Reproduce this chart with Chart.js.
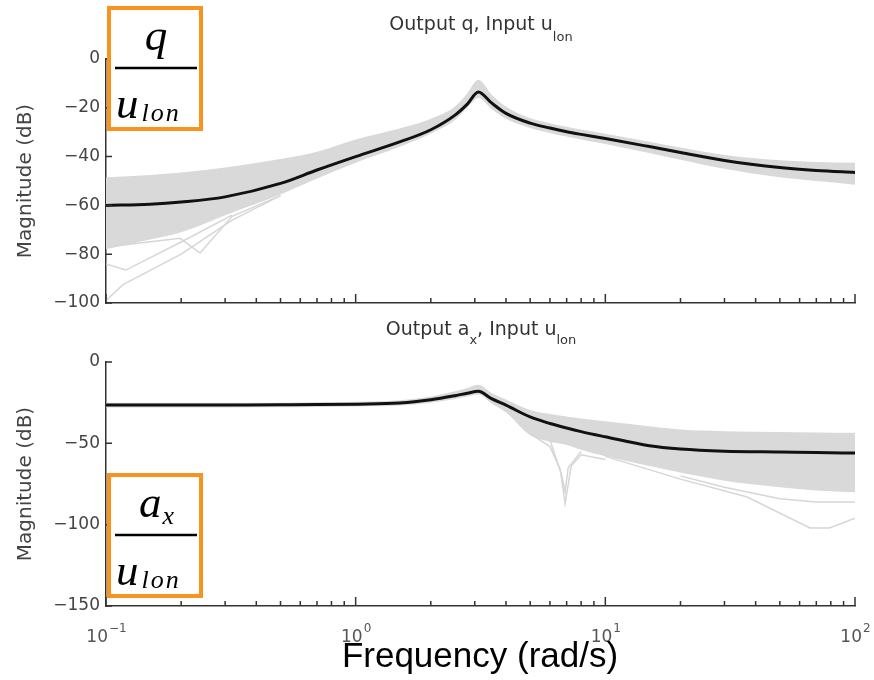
<!DOCTYPE html>
<html>
<head>
  <meta charset="UTF-8">
  <title>Magnitude q y a_x frente a u_lon</title>
  <script src="https://cdn.jsdelivr.net/npm/chart.js"></script>
  <style>
    body { margin: 0; background: #fff; }
    #wrap { position: relative; width: 874px; height: 680px; }
    canvas { position: absolute; left: 0; }
    #top { top: 0; }
    #bottom { top: 307px; }
  </style>
</head>
<body>
<div id="wrap">
  <canvas id="top" width="874" height="307"></canvas>
  <canvas id="bottom" width="874" height="373"></canvas>
</div>
<script>
// frecuencias (rad/s) comunes a la curva nominal y a la banda de dispersion
const freq = [0.1, 0.15, 0.2, 0.3, 0.5, 0.7, 1, 1.5, 2, 2.5, 2.8, 3.1, 3.5, 4, 5, 6, 7, 8, 10, 15, 20, 30, 50, 70, 100];

// q / u_lon en dB
const qNominal = [-60, -59.5, -58.6, -56.5, -51, -45.5, -40, -34, -29, -23, -18.5, -13.5, -18, -22.3, -26.3, -28.3, -29.8, -30.9, -32.6, -35.9, -38.3, -41.6, -44.5, -45.7, -46.5];
const qUpper = [-48.5, -47.5, -46.5, -44.5, -41, -38, -33, -28.5, -24.5, -19.5, -14, -8.5, -14.5, -19.5, -24.3, -26.3, -27.8, -28.9, -30.6, -33.9, -36.3, -39.3, -41.5, -42.2, -42.5];
const qLower = [-78, -74, -71, -64, -55.5, -49, -42.5, -36, -30.5, -25, -20, -16, -20.5, -24.5, -28.3, -30.3, -31.8, -33, -34.8, -38.5, -41.3, -45, -48.5, -50, -51.5];
// corridas sueltas por debajo de la banda
const qRunFreq1 = [0.1, 0.117, 0.2, 0.32, 0.5];
const qRun1 = [-99, -92.5, -80, -66, -56];
const qRunFreq2 = [0.1, 0.198, 0.238, 0.32, 0.5];
const qRun2 = [-77, -73.5, -79.5, -64.5, -56];
const qRunFreq3 = [0.1, 0.12, 0.2, 0.32];
const qRun3 = [-84, -86.5, -75, -64];

// a_x / u_lon en dB
const axNominal = [-26.5, -26.5, -26.5, -26.4, -26.3, -26.2, -25.9, -25.2, -23.2, -20.7, -19.2, -18, -22.5, -26.5, -33.8, -37.8, -40.6, -42.8, -46, -51.5, -53.5, -54.8, -55.3, -55.6, -56];
const axUpper = [-25, -25, -25, -25, -25, -24.8, -24.4, -23.5, -21.2, -18, -16, -14, -19, -23, -29.5, -32, -33.5, -34.8, -36.5, -39.5, -41.5, -42.5, -43, -43.3, -43.5];
const axLower = [-28, -28, -28, -27.9, -27.8, -27.6, -27.3, -26.7, -25, -22.7, -21.2, -20, -25.5, -31, -45, -49, -51, -54, -58, -64, -68, -73, -77, -79, -80];
const axRunFreq1 = [5, 6, 6.6, 6.9, 7.3, 8, 10];
const axRun1 = [-44, -52, -66, -87, -64, -57, -60];
const axRunFreq2 = [6, 6.7, 6.9, 7.1, 8];
const axRun2 = [-48, -70, -80, -65, -55];
const axRunFreq3 = [10, 20, 37, 66, 79, 100];
const axRun3 = [-58, -72, -83, -102, -102, -96];
const axRunFreq4 = [20, 30, 50, 70, 100];
const axRun4 = [-70, -77, -84, -86, -86];

// marcas del eje x
const decades = [0.1, 1, 10, 100];
const decadeExp = ['\u22121', '0', '1', '2'];
const minorSteps = [2, 3, 4, 5, 6, 7, 8, 9];

const band = '#d9d9d9';
const runColor = '#d6d6d6';

function pts(xs, ys) {
  return xs.map((x, i) => ({ x: x, y: ys[i] }));
}

function datasets(nominal, upper, lower, runs) {
  const list = [
    { data: pts(freq, nominal), borderColor: '#111', borderWidth: 3, order: 0, cubicInterpolationMode: 'monotone' },
    { data: pts(freq, upper), borderWidth: 0, backgroundColor: band, fill: '+1', order: 3, cubicInterpolationMode: 'monotone' },
    { data: pts(freq, lower), borderWidth: 0, fill: false, order: 3, cubicInterpolationMode: 'monotone' }
  ];
  runs.forEach(r => list.push({ data: pts(r[0], r[1]), borderColor: runColor, borderWidth: 1.5, order: 2 }));
  list.forEach(d => { d.pointRadius = 0; });
  return list;
}

// texto con subindices: partes [texto, esSub]
function richText(ctx, parts, cx, baseline, size, subSize, drop) {
  const big = size + 'px "DejaVu Sans"', small = subSize + 'px "DejaVu Sans"';
  let w = 0;
  parts.forEach(([t, sub]) => { ctx.font = sub ? small : big; w += ctx.measureText(t).width; });
  let x = cx - w / 2;
  ctx.textAlign = 'left';
  ctx.textBaseline = 'alphabetic';
  parts.forEach(([t, sub]) => {
    ctx.font = sub ? small : big;
    ctx.fillText(t, x, baseline + (sub ? drop : 0));
    x += ctx.measureText(t).width;
  });
}

// recuadro naranja con la fraccion
function fractionBox(ctx, top, num, numSub) {
  ctx.save();
  ctx.fillStyle = '#fff';
  ctx.fillRect(107, top, 96, 125);
  ctx.strokeStyle = '#f7931e';
  ctx.lineWidth = 4;
  ctx.strokeRect(109, top + 2, 92, 121);
  ctx.fillStyle = '#000';
  ctx.textBaseline = 'alphabetic';
  ctx.textAlign = 'left';
  const big = 'italic 45px "Liberation Serif"', small = 'italic 26px "Liberation Serif"';
  ctx.font = big;
  const wNum = ctx.measureText(num).width;
  ctx.font = small;
  const wSub = numSub ? ctx.measureText(numSub).width : 0;
  const x = 156 - (wNum + wSub) / 2;
  ctx.font = big;
  ctx.fillText(num, x, top + 44);
  if (numSub) { ctx.font = small; ctx.fillText(numSub, x + wNum + 1, top + 51); }
  ctx.beginPath();
  ctx.lineWidth = 2.5;
  ctx.strokeStyle = '#000';
  ctx.moveTo(115, top + 62);
  ctx.lineTo(197, top + 62);
  ctx.stroke();
  ctx.font = big;
  ctx.fillText('u', 116, top + 112);
  const wu = ctx.measureText('u').width;
  ctx.font = small;
  ctx.letterSpacing = '2px';
  ctx.fillText('lon', 116 + wu + 3, top + 115);
  ctx.letterSpacing = '0px';
  ctx.restore();
}

function axisMarks(chart) {
  const { ctx, chartArea: a, scales: { x, y } } = chart;
  ctx.save();
  ctx.strokeStyle = '#333';
  ctx.lineWidth = 1.5;
  ctx.beginPath();
  y.ticks.forEach(t => {
    const py = y.getPixelForValue(t.value);
    ctx.moveTo(a.left, py);
    ctx.lineTo(a.left + 6, py);
  });
  decades.forEach((d, i) => {
    const px = x.getPixelForValue(d);
    ctx.moveTo(px, a.bottom);
    ctx.lineTo(px, a.bottom - 9);
    if (i < decades.length - 1) {
      minorSteps.forEach(m => {
        const pm = x.getPixelForValue(d * m);
        ctx.moveTo(pm, a.bottom);
        ctx.lineTo(pm, a.bottom - 5);
      });
    }
  });
  ctx.stroke();
  // titulo del eje y
  ctx.fillStyle = '#444';
  ctx.font = '20px "DejaVu Sans"';
  ctx.textAlign = 'center';
  ctx.textBaseline = 'middle';
  ctx.translate(26, (a.top + a.bottom) / 2);
  ctx.rotate(-Math.PI / 2);
  ctx.fillText('Magnitude (dB)', 0, 0);
  ctx.restore();
}

function options(yMin, yStep, top, xHeight) {
  return {
    responsive: false,
    animation: false,
    layout: { padding: { top: top, right: 19, left: 0, bottom: 0 } },
    plugins: { legend: { display: false }, tooltip: { enabled: false } },
    scales: {
      x: {
        type: 'logarithmic', min: 0.1, max: 100,
        grid: { display: false, drawTicks: false },
        border: { display: true, color: '#333', width: 1.5 },
        ticks: { display: false },
        afterFit: s => { s.height = xHeight; s.paddingLeft = 0; s.paddingRight = 0; }
      },
      y: {
        min: yMin, max: 0,
        grid: { display: false, drawTicks: false },
        border: { display: true, color: '#333', width: 1.5 },
        ticks: {
          stepSize: yStep, padding: 6, color: '#444',
          font: { family: 'DejaVu Sans', size: 17 },
          callback: v => String(v).replace('-', '\u2212')
        },
        afterFit: s => { s.width = 106; s.paddingTop = 0; s.paddingBottom = 0; }
      }
    }
  };
}

const topOpts = options(-100, 20, 59, 4);
new Chart(document.getElementById('top'), {
  type: 'line',
  data: { datasets: datasets(qNominal, qUpper, qLower, [[qRunFreq1, qRun1], [qRunFreq2, qRun2], [qRunFreq3, qRun3]]) },
  options: topOpts,
  plugins: [{
    id: 'marksTop',
    afterDatasetsDraw: axisMarks,
    afterDraw(chart) {
      const ctx = chart.ctx;
      ctx.save();
      ctx.fillStyle = '#333';
      richText(ctx, [['Output q, Input u', false], ['lon', true]], 481, 30, 19, 13, 11);
      ctx.restore();
      fractionBox(ctx, 6, 'q', '');
    }
  }]
});

const bottomOpts = options(-150, 50, 55, 74);
new Chart(document.getElementById('bottom'), {
  type: 'line',
  data: { datasets: datasets(axNominal, axUpper, axLower, [[axRunFreq1, axRun1], [axRunFreq2, axRun2], [axRunFreq3, axRun3], [axRunFreq4, axRun4]]) },
  options: bottomOpts,
  plugins: [{
    id: 'marksBottom',
    afterDatasetsDraw: axisMarks,
    afterDraw(chart) {
      const { ctx, scales: { x } } = chart;
      ctx.save();
      ctx.fillStyle = '#333';
      richText(ctx, [['Output a', false], ['x', true], [', Input u', false], ['lon', true]], 481, 28, 19, 13, 9);
      // etiquetas de decada 10^k
      ctx.fillStyle = '#555';
      ctx.textAlign = 'left';
      ctx.textBaseline = 'alphabetic';
      decades.forEach((d, i) => {
        ctx.font = '17px "DejaVu Sans"';
        const wb = ctx.measureText('10').width;
        ctx.font = '12px "DejaVu Sans"';
        const we = ctx.measureText(decadeExp[i]).width;
        const x0 = x.getPixelForValue(d) - (wb + we) / 2;
        ctx.font = '17px "DejaVu Sans"';
        ctx.fillText('10', x0, 335);
        ctx.font = '12px "DejaVu Sans"';
        ctx.fillText(decadeExp[i], x0 + wb + 1, 325);
      });
      ctx.fillStyle = '#000';
      ctx.font = '35px "Liberation Sans"';
      ctx.textAlign = 'center';
      ctx.fillText('Frequency (rad/s)', 480, 360);
      ctx.restore();
      fractionBox(ctx, 166, 'a', 'x');
    }
  }]
});
</script>
</body>
</html>
